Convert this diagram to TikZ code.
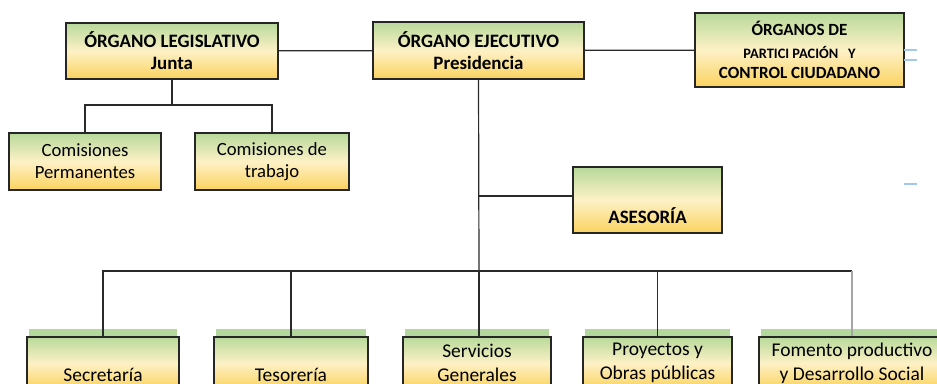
\documentclass[tikz,border=0pt]{standalone}
\usepackage{fontspec}
\setmainfont{Carlito}
\definecolor{gtop}{HTML}{B8D99B}
\definecolor{gmid}{HTML}{FDF1C6}
\definecolor{gbot}{HTML}{FAD25E}
\definecolor{stripgreen}{HTML}{B3D79C}
\definecolor{conn}{HTML}{2A2A2A}
\definecolor{bluemark}{HTML}{A3C8EC}
\tikzset{
  box/.style={draw=black!85, line width=1.1pt, top color=gtop, bottom color=gbot, middle color=gmid,
    inner sep=0pt, align=center, font=\fontsize{14}{16.5}\selectfont},
  headbox/.style={box, font=\fontsize{14.2}{16.5}\selectfont\bfseries},
  lowbox/.style={box, minimum height=39pt, font=\fontsize{14.6}{18}\selectfont},
  link/.style={draw=conn, line width=0.9pt},
  greylink/.style={draw=black!35, line width=0.9pt},
  stripfill/.style={fill=stripgreen},
  bluetick/.style={draw=bluemark, line width=1.2pt}
}
\begin{document}
\begin{tikzpicture}[x=0.75pt,y=-0.75pt]
\useasboundingbox (0,0) rectangle (937,383);
\clip (0,0) rectangle (937,383);

% top row
\node[headbox, minimum width=159pt, minimum height=42pt] (leg) at (172,51) {\rule{0pt}{12pt}ÓRGANO LEGISLATIVO\\Junta};
\node[headbox, minimum width=158.25pt, minimum height=42.75pt] (eje) at (478.5,50.5) {\rule{0pt}{12pt}ÓRGANO EJECUTIVO\\Presidencia};
\node[headbox, minimum width=156.75pt, minimum height=55.5pt, font=\fontsize{12.8}{15}\selectfont\bfseries] (org) at (799.5,50)
  {ÓRGANOS DE\\[2pt]{\fontsize{10.8}{13}\selectfont PARTICI PACIÓN\ \ \ Y}\\CONTROL CIUDADANO};

% commissions
\node[box, minimum width=114pt, minimum height=42.75pt] (com1) at (85,161.5) {Comisiones\\Permanentes};
\node[box, minimum width=115.5pt, minimum height=42.75pt] (com2) at (272,161.5) {Comisiones de\\trabajo};

% advisory
\node[headbox, minimum width=111.75pt, minimum height=49.5pt] (ases) at (647.5,200) {\phantom{ASESORÍA}\\[7pt]ASESORÍA};

% bottom row strips
\fill[stripfill] (29,329) rectangle (177,337);
\fill[stripfill] (216,329) rectangle (366,337);
\fill[stripfill] (405,329) rectangle (549,337);
\fill[stripfill] (585,329) rectangle (730,337);
\fill[stripfill] (761,329) rectangle (945,337);

% bottom row
\node[lowbox, minimum width=114pt] (sec) at (103,363) {\phantom{Servicios}\\Secretaría};
\node[lowbox, minimum width=115.5pt] (tes) at (291,363) {\phantom{Servicios}\\Tesorería};
\node[lowbox, minimum width=111pt] (ser) at (477,363) {Servicios\\Generales};
\node[lowbox, minimum width=111.75pt] (pro) at (657.5,363) {Proyectos y\\Obras públicas};
\node[lowbox, minimum width=139.5pt] (fom) at (852,363) {Fomento productivo\\y Desarrollo Social};

% connectors
\coordinate (jl) at (172,105);
\coordinate (as) at (479,196);
\coordinate (bus) at (479,271);
\coordinate (busend) at (852,271);

\draw[link] (leg) -- (eje);
\draw[link] (eje) -- (org);
\draw[link] (leg.south) -- (jl);
\draw[link] (com1.north) |- (jl) -| (com2.north);
\draw[link] (eje.south) -- (bus);
\draw[link] (as) -- (as -| ases.west);
\draw[link] (sec.north) |- (bus);
\draw[link] (tes.north) -- (tes.north |- bus);
\draw[link] (ser.north -| bus) -- (bus);
\draw[link] (bus) -- (busend);
\draw[link] (pro.north) -- (pro.north |- bus);
\draw[greylink] (busend) -- (fom.north);

% small blue marks at right
\draw[bluetick] (904,50) -- (917,50);
\draw[bluetick] (904,60) -- (917,60);
\draw[bluetick] (904,184) -- (917,184);
\end{tikzpicture}
\end{document}
